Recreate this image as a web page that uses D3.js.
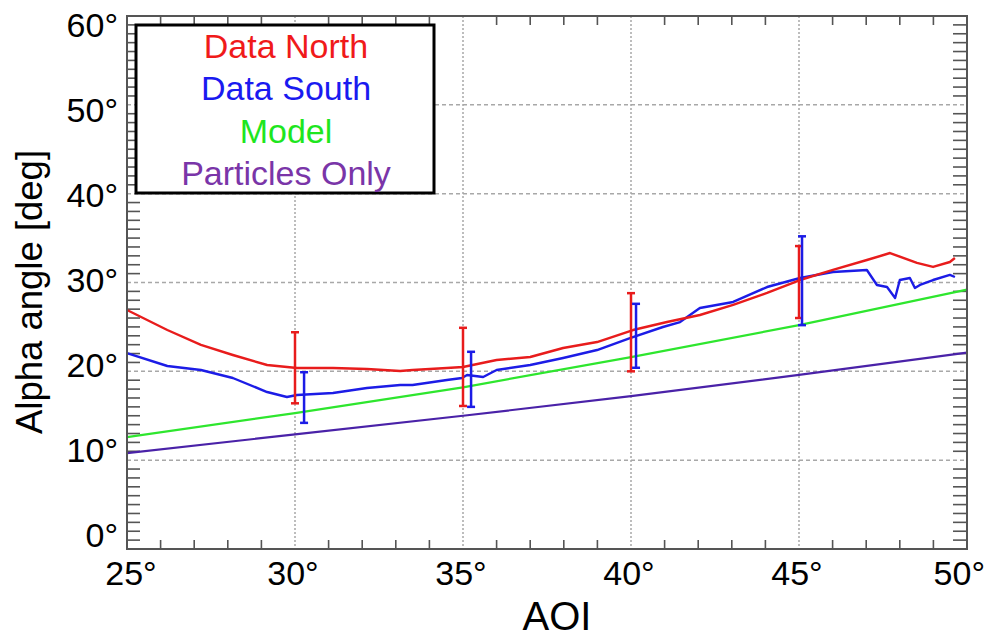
<!DOCTYPE html>
<html>
<head>
<meta charset="utf-8">
<script src="https://cdn.jsdelivr.net/npm/d3@7"></script>
<style>
body { margin: 0; background: #fff; }
text { font-family: "Liberation Sans", Arial, sans-serif; }
</style>
</head>
<body>
<div id="chart"></div>
<script>
var svgWidth = 989, svgHeight = 637;
var plotLeft = 127, plotRight = 967, plotTop = 16, plotBottom = 549;

// Data North (red)
var northAoi   = [25.0, 26.2, 27.2, 28.15, 29.17, 30.06, 31.13, 32.14, 33.13, 33.5, 34.52, 35.0, 36.0, 37.0, 37.98, 38.99, 40.06, 41.07, 42.05, 43.04, 44.05, 45.03, 46.01, 47.02, 47.71, 48.51, 48.99, 49.49, 49.64];
var northAlpha = [26.9, 24.65, 22.97, 21.84, 20.71, 20.38, 20.38, 20.26, 20.04, 20.15, 20.38, 20.49, 21.28, 21.61, 22.63, 23.3, 24.65, 25.55, 26.34, 27.47, 28.82, 30.28, 31.41, 32.53, 33.32, 32.2, 31.75, 32.31, 32.76];

// Data South (blue)
var southAoi   = [25.0, 26.2, 27.2, 28.15, 29.17, 29.76, 30.06, 31.13, 32.14, 33.13, 33.5, 34.52, 34.97, 35.12, 35.6, 36.0, 37.0, 37.98, 38.99, 39.97, 40.95, 41.46, 42.05, 43.04, 44.05, 45.03, 46.01, 47.02, 47.32, 47.62, 47.86, 48.0, 48.3, 48.45, 48.6, 48.99, 49.49, 49.64];
var southAlpha = [22.06, 20.6, 20.15, 19.25, 17.67, 17.11, 17.34, 17.56, 18.12, 18.46, 18.46, 19.02, 19.25, 19.59, 19.36, 20.15, 20.71, 21.5, 22.4, 23.75, 24.99, 25.55, 27.13, 27.81, 29.49, 30.51, 31.18, 31.41, 29.72, 29.49, 28.26, 30.28, 30.51, 29.38, 29.72, 30.28, 30.85, 30.62];

// Model (green) and Particles Only (purple)
var modelAoi       = [25, 30, 35, 40, 45, 50];
var modelAlpha     = [12.6, 15.3, 18.2, 21.6, 25.2, 29.2];
var particlesAlpha = [10.8, 12.9, 15.0, 17.2, 19.6, 22.1];

// error bars
var northBarAoi  = [30, 35, 40, 45];
var northBarLow  = [16.4, 16.1, 20.0, 26.0];
var northBarHigh = [24.4, 24.9, 28.8, 34.1];
var southBarAoi  = [30.27, 35.24, 40.15, 45.09];
var southBarLow  = [14.2, 16.0, 20.4, 25.2];
var southBarHigh = [19.9, 22.2, 27.6, 35.2];

var xTicks = [25, 30, 35, 40, 45, 50];
var yTicks = [0, 10, 20, 30, 40, 50, 60];
var legendLabels = ["Data North", "Data South", "Model", "Particles Only"];
var legendColors = ["#f01a1a", "#1a1af0", "#1ee61e", "#7a35a8"];

var xScale = d3.scaleLinear().domain([25, 50]).range([plotLeft, plotRight]);
var yScale = d3.scaleLinear().domain([0, 60]).range([plotBottom, plotTop]);
// tick labels in the original sit a bit off the grid
var yLabelScale = d3.scaleLinear().domain([0, 60]).range([535, 25]);

var svg = d3.select("#chart")
  .append("svg")
  .attr("width", svgWidth)
  .attr("height", svgHeight);

// grid
svg.append("g")
  .selectAll("line")
  .data([10, 20, 30, 40, 50])
  .enter()
  .append("line")
  .attr("x1", plotLeft).attr("x2", plotRight)
  .attr("y1", d => yScale(d)).attr("y2", d => yScale(d))
  .attr("stroke", "#a8a8a8")
  .attr("stroke-width", 1.5)
  .attr("stroke-dasharray", "4,3");

svg.append("g")
  .selectAll("line")
  .data([30, 35, 40, 45])
  .enter()
  .append("line")
  .attr("x1", d => xScale(d)).attr("x2", d => xScale(d))
  .attr("y1", plotTop).attr("y2", plotBottom)
  .attr("stroke", "#a8a8a8")
  .attr("stroke-width", 1.5)
  .attr("stroke-dasharray", "2,2");

// minor ticks
var xMinor = d3.range(26, 50).filter(d => d % 5 != 0);
var yMinor = d3.range(1, 60).filter(d => d % 10 != 0);
var tickColor = "#555";

var ticks = svg.append("g").attr("stroke", tickColor).attr("stroke-width", 1.6);
ticks.selectAll(".xb").data(xMinor).enter().append("line")
  .attr("x1", d => xScale(d)).attr("x2", d => xScale(d))
  .attr("y1", plotBottom).attr("y2", plotBottom - 9);
ticks.selectAll(".xt").data(xMinor).enter().append("line")
  .attr("x1", d => xScale(d)).attr("x2", d => xScale(d))
  .attr("y1", plotTop).attr("y2", plotTop + 9);
ticks.selectAll(".yl").data(yMinor).enter().append("line")
  .attr("x1", plotLeft).attr("x2", plotLeft + 13)
  .attr("y1", d => yScale(d)).attr("y2", d => yScale(d));
ticks.selectAll(".yr").data(yMinor).enter().append("line")
  .attr("x1", plotRight).attr("x2", plotRight - 14)
  .attr("y1", d => yScale(d)).attr("y2", d => yScale(d));

// lines
var line = d3.line()
  .x(d => xScale(d[0]))
  .y(d => yScale(d[1]));

function drawSeries(xs, ys, color, width) {
  svg.append("path")
    .datum(xs.map((x, i) => [x, ys[i]]))
    .attr("d", line)
    .attr("fill", "none")
    .attr("stroke", color)
    .attr("stroke-width", width)
    .attr("stroke-linejoin", "round");
}

drawSeries(modelAoi, particlesAlpha, "#4a22a8", 2.2);
drawSeries(modelAoi, modelAlpha, "#2ee62e", 2.2);
drawSeries(southAoi, southAlpha, "#1c1ce6", 2.4);
drawSeries(northAoi, northAlpha, "#e81c1c", 2.4);

// error bars
function drawBars(xs, lo, hi, color) {
  var g = svg.append("g").attr("stroke", color).attr("stroke-width", 2.5);
  xs.forEach(function(x, i) {
    var px = xScale(x);
    g.append("line").attr("x1", px).attr("x2", px)
      .attr("y1", yScale(lo[i])).attr("y2", yScale(hi[i]));
    g.append("line").attr("x1", px - 4).attr("x2", px + 4)
      .attr("y1", yScale(lo[i])).attr("y2", yScale(lo[i]));
    g.append("line").attr("x1", px - 4).attr("x2", px + 4)
      .attr("y1", yScale(hi[i])).attr("y2", yScale(hi[i]));
  });
}
drawBars(northBarAoi, northBarLow, northBarHigh, "#e81c1c");
drawBars(southBarAoi, southBarLow, southBarHigh, "#1c1ce6");

// frame
svg.append("rect")
  .attr("x", plotLeft).attr("y", plotTop)
  .attr("width", plotRight - plotLeft)
  .attr("height", plotBottom - plotTop)
  .attr("fill", "none")
  .attr("stroke", "#555")
  .attr("stroke-width", 2);

// tick labels (last one pulled in so it stays on the page)
svg.append("g")
  .selectAll("text")
  .data(xTicks)
  .enter()
  .append("text")
  .attr("x", (d, i) => i == xTicks.length - 1 ? 985 : xScale(d) + (i == 0 ? 4 : -2))
  .attr("y", 585)
  .attr("text-anchor", (d, i) => i == xTicks.length - 1 ? "end" : "middle")
  .attr("font-size", 34)
  .text(d => d + "°");

svg.append("g")
  .selectAll("text")
  .data(yTicks)
  .enter()
  .append("text")
  .attr("x", 118)
  .attr("y", d => yLabelScale(d) + 12)
  .attr("text-anchor", "end")
  .attr("font-size", 34)
  .text(d => d + "°");

// axis titles
svg.append("text")
  .attr("x", 557)
  .attr("y", 630)
  .attr("text-anchor", "middle")
  .attr("font-size", 40)
  .text("AOI");

svg.append("text")
  .attr("transform", "translate(42,292) rotate(-90)")
  .attr("text-anchor", "middle")
  .attr("font-size", 36.5)
  .text("Alpha angle [deg]");

// legend
svg.append("rect")
  .attr("x", 136).attr("y", 25)
  .attr("width", 298).attr("height", 168)
  .attr("fill", "#fff")
  .attr("stroke", "#000")
  .attr("stroke-width", 3);

svg.append("g")
  .selectAll("text")
  .data(legendLabels)
  .enter()
  .append("text")
  .attr("x", 286)
  .attr("y", (d, i) => 58 + i * 42.3)
  .attr("text-anchor", "middle")
  .attr("font-size", 34)
  .attr("fill", (d, i) => legendColors[i])
  .text(d => d);
</script>
</body>
</html>
